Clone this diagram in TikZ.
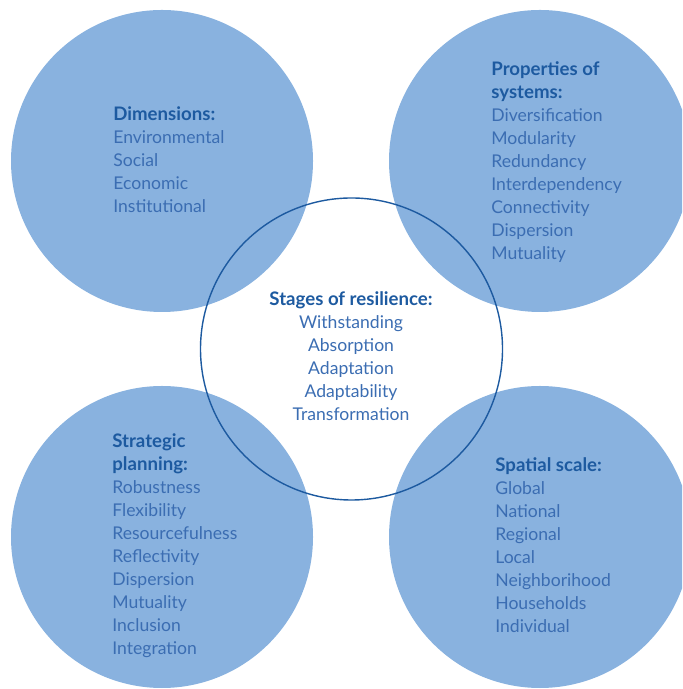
\documentclass[tikz,border=0pt]{standalone}
\usepackage{fontspec}
\setmainfont{Lato}
\definecolor{kreis}{HTML}{89B2DF}
\definecolor{kopf}{HTML}{1D5AA0}
\definecolor{eintrag}{HTML}{3B6DB2}
\tikzset{
  blob/.style={circle,fill=kreis,minimum size=6.04cm,inner sep=0pt},
  ring/.style={circle,draw=kopf,line width=0.8pt,minimum size=6.04cm,inner sep=0pt},
  liste/.style={align=left,inner sep=0pt,text=eintrag,font=\fontsize{10}{13.1}\selectfont},
}
\newcommand{\kopfzeile}[1]{\textcolor{kopf}{\fontsize{10.6}{13.1}\selectfont\bfseries #1}}
\begin{document}
\begin{tikzpicture}
\useasboundingbox (0,0) rectangle (13.64,13.78);
\clip (0,0) rectangle (13.64,13.78);
% Kreise
\node[blob] (dimkreis) at (3.24,10.56) {};
\node[blob] (propkreis) at (10.8,10.56) {};
\node[blob] (plankreis) at (3.24,3.04) {};
\node[blob] (scalekreis) at (10.8,3.04) {};
\node[ring] (mitte) at (7.03,6.8) {};
% Texte (base = letzte Zeile)
\node[liste,anchor=base west] (dim) at (2.26,9.53)
  {\kopfzeile{Dimensions:}\\Environmental\\Social\\Economic\\Institutional};
\node[liste,anchor=base west] (prop) at (9.82,8.59)
  {\kopfzeile{Properties of}\\\kopfzeile{systems:}\\Diversification\\Modularity\\Redundancy\\Interdependency\\Connectivity\\Dispersion\\Mutuality};
\node[liste,align=center,anchor=base] (stage) at (7.02,5.37)
  {\kopfzeile{Stages of resilience:}\\Withstanding\\Absorption\\Adaptation\\Adaptability\\Transformation};
\node[liste,anchor=base west] (plan) at (2.24,0.69)
  {\kopfzeile{Strategic}\\\kopfzeile{planning:}\\Robustness\\Flexibility\\Resourcefulness\\Reflectivity\\Dispersion\\Mutuality\\Inclusion\\Integration};
\node[liste,anchor=base west] (scale) at (9.9,1.13)
  {\kopfzeile{Spatial scale:}\\Global\\National\\Regional\\Local\\Neighborihood\\Households\\Individual};
\end{tikzpicture}
\end{document}
